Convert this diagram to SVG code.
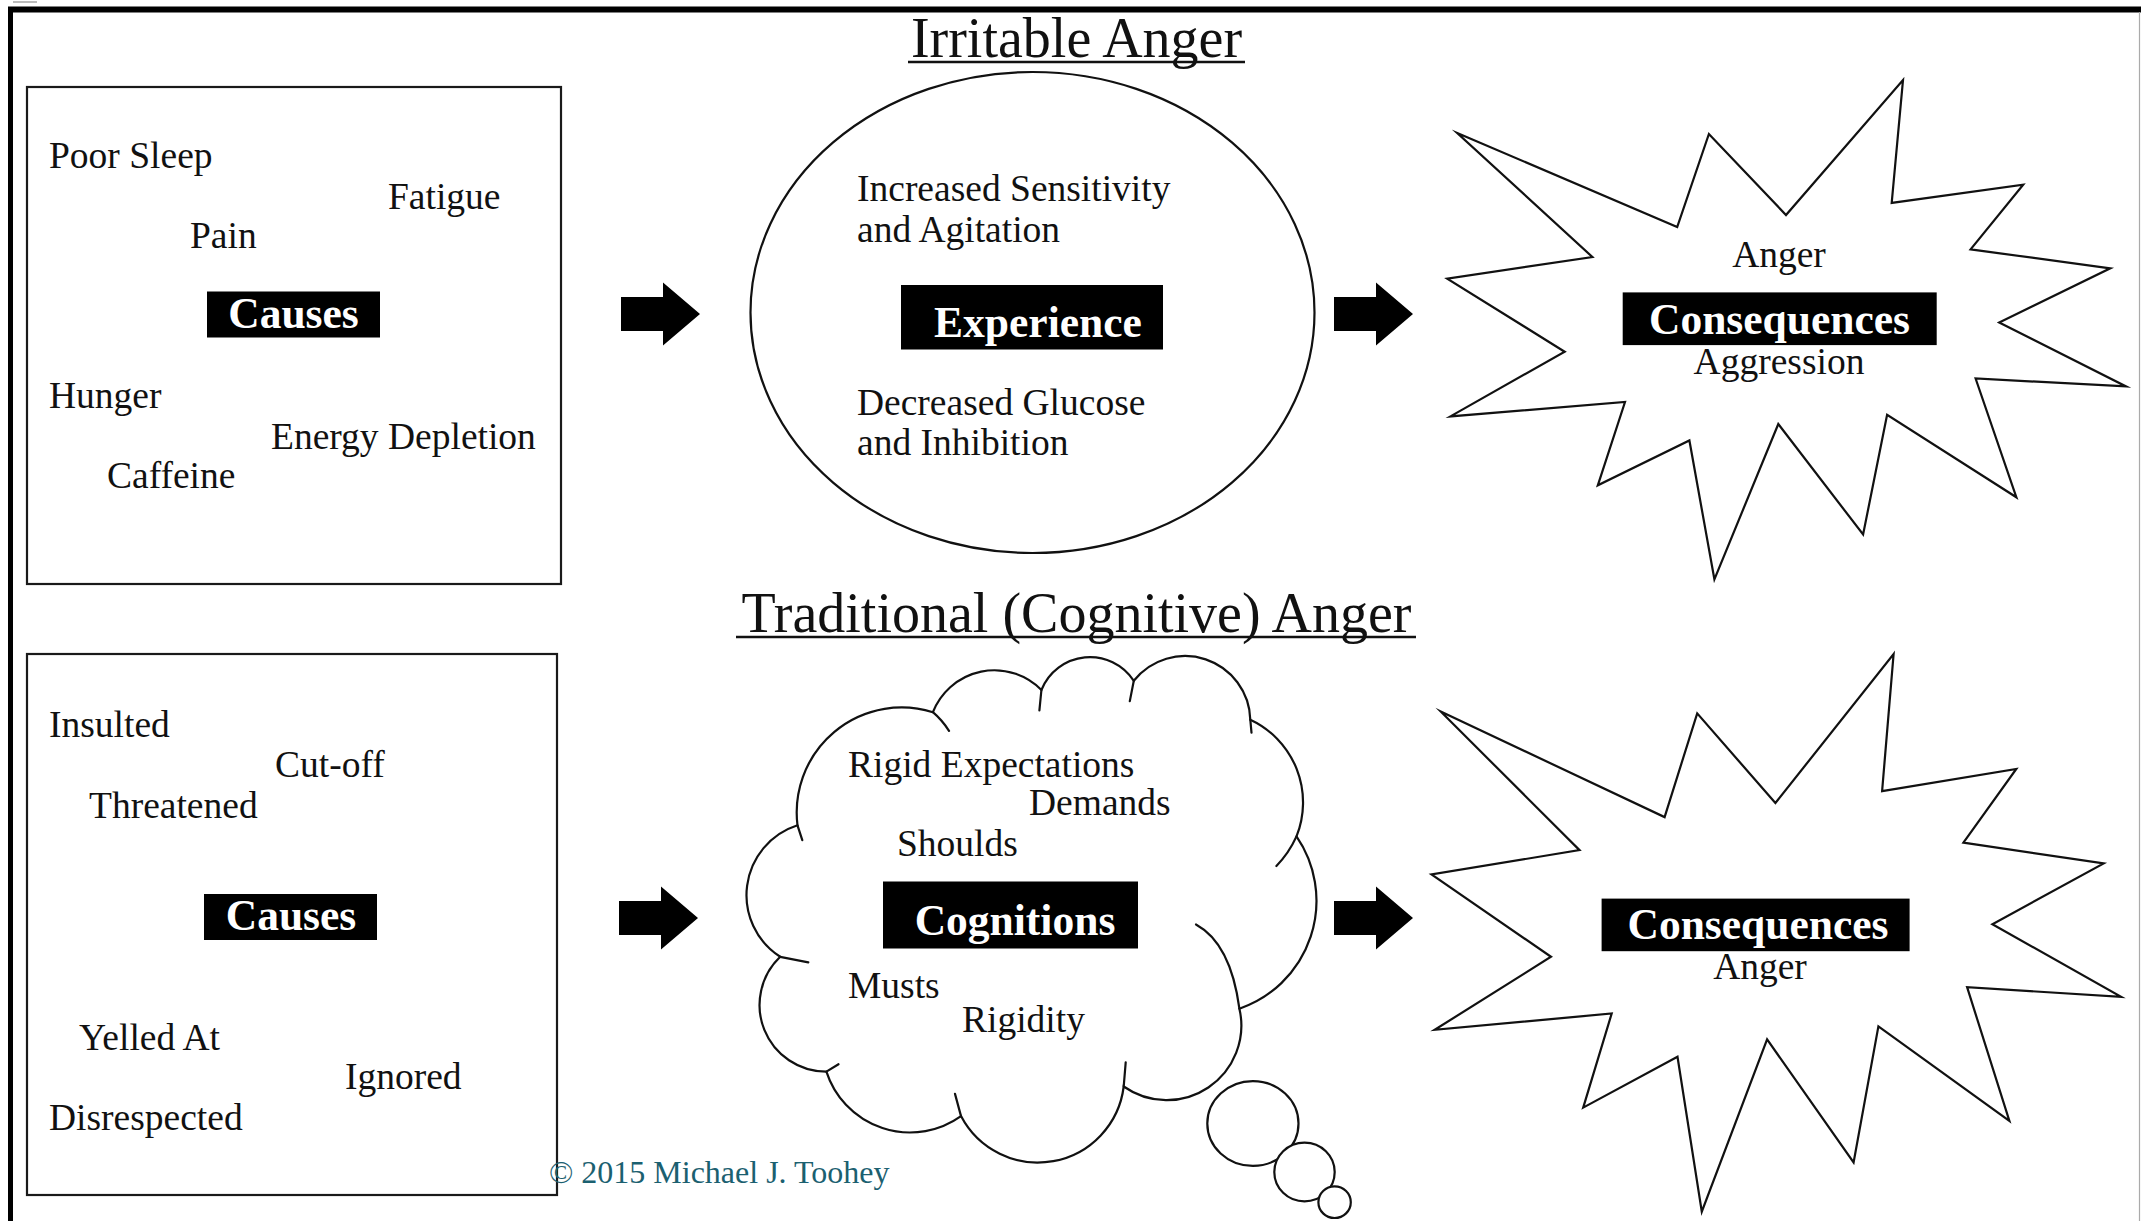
<svg xmlns="http://www.w3.org/2000/svg" width="2141" height="1221" viewBox="0 0 2141 1221">
<style>
.t{font-family:"Liberation Serif","Times New Roman",serif;font-size:37.5px;fill:#111}
.b{font-family:"Liberation Serif","Times New Roman",serif;font-size:43.5px;font-weight:bold;fill:#fff;text-anchor:middle}
.h{font-family:"Liberation Serif","Times New Roman",serif;font-size:56px;fill:#111;text-anchor:middle}
.c{text-anchor:middle}
.lab{fill:#000}
.box{fill:#fff;stroke:#1a1a1a;stroke-width:2.2}
.shape{fill:#fff;stroke:#111;stroke-width:2.2;stroke-linejoin:miter;stroke-miterlimit:12}
.hook{fill:none;stroke:#111;stroke-width:2.2;stroke-linecap:round}
.ul{stroke:#111;stroke-width:2.5}
.arrow{fill:#000}
</style>
<defs>
<path id="arr" d="M0,-17 H42 V-31.5 L79,0 L42,31.5 V17 H0 Z"/>
</defs>
<rect width="2141" height="1221" fill="#fff"/>
<g id="frame">
<line x1="13" y1="2" x2="37" y2="2" stroke="#bbb" stroke-width="2"/>
<line x1="8" y1="9.5" x2="2141" y2="9.5" stroke="#000" stroke-width="6"/>
<line x1="10.5" y1="7" x2="10.5" y2="1221" stroke="#000" stroke-width="5"/>
<line x1="2139.5" y1="12" x2="2139.5" y2="1221" stroke="#aaa" stroke-width="1.2"/>
</g>
<g id="titles">
<text class="h" x="1076.5" y="57">Irritable Anger</text>
<line class="ul" x1="908" y1="62" x2="1245" y2="62"/>
<text class="h" x="1076.5" y="631.5">Traditional (Cognitive) Anger</text>
<line class="ul" x1="736" y1="637" x2="1416" y2="637"/>
</g>
<g id="causes-1">
<rect class="box" x="27" y="87" width="534" height="497"/>
<text class="t" x="49" y="168">Poor Sleep</text>
<text class="t" x="388" y="209">Fatigue</text>
<text class="t" x="190" y="248">Pain</text>
<rect class="lab" x="207" y="291.5" width="173" height="46"/>
<text class="b" x="293.5" y="328">Causes</text>
<text class="t" x="49" y="408">Hunger</text>
<text class="t" x="271" y="449">Energy Depletion</text>
<text class="t" x="107" y="488">Caffeine</text>
</g>
<g id="experience">
<ellipse class="shape" cx="1032.5" cy="312.5" rx="282" ry="240.5"/>
<text class="t" x="857" y="201">Increased Sensitivity</text>
<text class="t" x="857" y="242">and Agitation</text>
<rect class="lab" x="901" y="285" width="262" height="64.5"/>
<text class="b" x="1038" y="337">Experience</text>
<text class="t" x="857" y="415">Decreased Glucose</text>
<text class="t" x="857" y="455">and Inhibition</text>
</g>
<g id="consequences-1">
<polygon class="shape" points="1457.2,133 1677.2,227 1708.9,134 1786,215 1903,80 1891.7,202.9 2023.2,184.7 1970.6,249.4 2110.3,268.3 1999.2,322.4 2126.1,386.4 1975.6,378.5 2016.4,497.3 1887.1,414.7 1863.1,534.5 1778.3,424 1714.4,579.3 1689.4,440.5 1597.8,485.3 1625,402 1450.4,416.4 1564.7,351.7 1447.2,278.7 1592.4,257"/>
<text class="t c" x="1779" y="266.5">Anger</text>
<rect class="lab" x="1622.7" y="292.4" width="314" height="52.7"/>
<text class="b" x="1779.5" y="334">Consequences</text>
<text class="t c" x="1779" y="374">Aggression</text>
</g>
<g id="causes-2">
<rect class="box" x="27" y="654" width="530" height="541"/>
<text class="t" x="49" y="737">Insulted</text>
<text class="t" x="275" y="777">Cut-off</text>
<text class="t" x="89" y="818">Threatened</text>
<rect class="lab" x="204" y="894" width="173" height="46"/>
<text class="b" x="291" y="929.5">Causes</text>
<text class="t" x="79" y="1050">Yelled At</text>
<text class="t" x="345" y="1089">Ignored</text>
<text class="t" x="49" y="1130">Disrespected</text>
</g>
<g id="cognitions">
<path class="shape" d="M797.5,825.3 A105,105 0 0 1 932.9,712.2 A66,66 0 0 1 1041.4,690 A52.3,52.3 0 0 1 1133.8,680.8 A65.3,65.3 0 0 1 1250.3,719.7 A91.3,91.3 0 0 1 1296.5,836.4 A114,114 0 0 1 1239.4,1008.7 A74.6,74.6 0 0 1 1123.7,1086.5 A86.6,86.6 0 0 1 961,1116.1 A87.8,87.8 0 0 1 826.4,1071.6 A66.6,66.6 0 0 1 780.2,956.8 A73.3,73.3 0 0 1 797.5,825.3 Z"/>
<path class="hook" d="M797.5,825.3 L802.3,840.1 M932.9,712.2 Q942,720 949,730.8 M1041.4,690 L1039.4,710.4 M1133.8,680.8 L1129.8,701.1 M1250.3,719.7 L1251.5,732.6 M1296.5,836.4 Q1289,853 1276.4,866 M1196,924.5 Q1230.7,943.4 1239.4,1008.7 M1123.7,1086.5 L1125.7,1062.4 M961,1116.1 L955,1093.9 M826.4,1071.6 L838.5,1064.2 M780.2,956.8 L808.3,962.3"/>
<ellipse class="shape" cx="1252.9" cy="1123.5" rx="45.6" ry="42.4"/>
<ellipse class="shape" cx="1304.5" cy="1172" rx="30.2" ry="29.4"/>
<ellipse class="shape" cx="1334.6" cy="1202.2" rx="16.2" ry="15.8"/>
<text class="t" x="848" y="777">Rigid Expectations</text>
<text class="t" x="1029" y="815">Demands</text>
<text class="t" x="897" y="856">Shoulds</text>
<rect class="lab" x="883" y="881.5" width="255" height="67"/>
<text class="b" x="1015" y="934.5">Cognitions</text>
<text class="t" x="848" y="997.5">Musts</text>
<text class="t" x="962" y="1032">Rigidity</text>
</g>
<g id="consequences-2">
<polygon class="shape" points="1440.7,711.5 1664.6,817.1 1697.2,713.4 1775.4,803 1893.6,654.1 1882.1,791.2 2016.3,768.9 1963.4,842.7 2103.7,863.4 1992.4,924.2 2121.1,996.8 1967.1,987.2 2009.4,1120.9 1878.4,1026.4 1853.6,1162.4 1767.1,1039.4 1701.8,1211.7 1677.5,1056.8 1583.2,1107.6 1611.7,1013.5 1434.7,1029.8 1551,956.8 1431.5,874.5 1579.5,850.1"/>
<rect class="lab" x="1601.6" y="898.6" width="308" height="52.6"/>
<text class="b" x="1758" y="938.5">Consequences</text>
<text class="t c" x="1760" y="979">Anger</text>
</g>
<g id="connectors">
<use href="#arr" class="arrow" transform="translate(621,314)"/>
<use href="#arr" class="arrow" transform="translate(1334,314)"/>
<use href="#arr" class="arrow" transform="translate(619,918)"/>
<use href="#arr" class="arrow" transform="translate(1334,918)"/>
</g>
<text x="549" y="1183" font-family="Liberation Serif, serif" font-size="32" fill="#1b6070">© 2015 Michael J. Toohey</text>
</svg>
